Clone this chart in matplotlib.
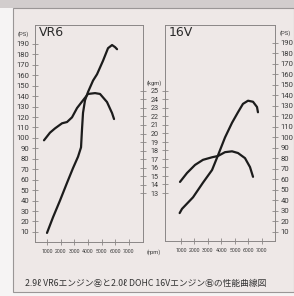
import matplotlib
matplotlib.use("Agg")
import matplotlib.pyplot as plt
from matplotlib.patches import Rectangle

# VR6 (left)
vr6_ps_rpm = [1000, 1440, 1950, 2465, 2900, 3270, 3490, 3560, 3635, 3780, 4000, 4370, 4660, 5100, 5465, 5760, 5980, 6125]
vr6_ps = [9, 24, 40, 57, 71, 82, 91, 108, 124, 136, 144, 155, 161, 174, 186, 189, 187, 185]
vr6_tq_rpm = [780, 1220, 1585, 2100, 2465, 2830, 3200, 3635, 4000, 4515, 4880, 5390, 5760, 5905]
vr6_tq = [19.2, 20.1, 20.6, 21.2, 21.35, 21.9, 23.0, 23.9, 24.65, 24.75, 24.65, 23.7, 22.4, 21.7]

# 16V (right)
v16_ps_rpm = [900, 1074, 1890, 2630, 3300, 3740, 4260, 4780, 5220, 5590, 5965, 6335, 6630, 6700]
v16_ps = [28, 32, 43, 57, 69, 83, 100, 114, 124, 132, 135, 134, 129, 124]
v16_tq_rpm = [926, 1445, 2040, 2630, 3300, 3740, 4260, 4780, 5220, 5740, 6110, 6335]
v16_tq = [14.3, 15.35, 16.3, 16.9, 17.2, 17.35, 17.8, 17.9, 17.7, 17.1, 16.05, 14.9]

ps_ticks = list(range(10, 200, 10))
kgm_ticks = list(range(13, 26))
rpm_ticks = [1000, 2000, 3000, 4000, 5000, 6000, 7000]
caption = "2.9ℓ VR6エンジン㊧と2.0ℓ DOHC 16Vエンジン㊨の性能曲線図"

W, H = 294, 296
narrow = ["Roboto", "DejaVu Sans"]
txt = "#3a3a3a"
spine_c = "#8a8686"
line_c = "#1c1c1c"

fig = plt.figure(figsize=(W / 100, H / 100), dpi=100)
fig.patch.set_facecolor("#f6f4f4")
# top strip and outer frame, kept behind the axes
fig.patches.append(Rectangle((0, 1 - 8 / H), 1, 8 / H, transform=fig.transFigure,
                             facecolor="#d2cdcd", edgecolor="none", zorder=-2))
fig.patches.append(Rectangle((13 / W, 1 - 292 / H), (W - 13) / W, (292 - 8) / H,
                             transform=fig.transFigure, facecolor="#eee8e7",
                             edgecolor="#9a9696", linewidth=0.8, zorder=-1))


def px(x, y):
    return x / W, 1 - y / H


axL = fig.add_axes([35 / W, 1 - 242 / H, 108 / W, 217 / H])
axR = fig.add_axes([165 / W, 1 - 241 / H, 110 / W, 216 / H])

# torque axes (twinx resets the host's tick side, so do it first)
tqL = axL.twinx()
tqR = axR.twinx()

for ax in (axL, axR):
    ax.set_facecolor("none")
    for s in ax.spines.values():
        s.set_color(spine_c)
        s.set_linewidth(0.7)
    ax.set_xticks(rpm_ticks)
    ax.set_xticklabels([str(v) for v in rpm_ticks], fontsize=3.7, family=narrow, color=txt)
    ax.tick_params(axis="x", direction="inout", length=4, width=0.6, color=spine_c, pad=3)
    ax.set_yticks(ps_ticks)
    ax.set_yticklabels([str(v) for v in ps_ticks], fontsize=5.6, family=narrow, color=txt)
    ax.tick_params(axis="y", direction="inout", length=5, width=0.6, color=spine_c, pad=1.5)

axL.set_xlim(122, 8024)
axL.set_ylim(0.3, 208.2)
axR.set_xlim(-185, 7963)
axR.set_ylim(1.4, 207.1)
axL.yaxis.tick_left()
axR.yaxis.tick_right()

tqL.set_ylim(7.24, 32.76)
tqL.set_yticks(kgm_ticks)
tqL.set_yticklabels([str(v) for v in kgm_ticks], fontsize=5.2, family=narrow, color=txt)
tqL.tick_params(axis="y", direction="inout", length=5, width=0.6, color=spine_c, pad=3)
for s in tqL.spines.values():
    s.set_visible(False)

tqR.set_ylim(7.35, 32.76)
tqR.yaxis.tick_left()
tqR.set_yticks(kgm_ticks)
tqR.tick_params(axis="y", direction="inout", length=5, width=0.6, color=spine_c, labelleft=False)
for s in tqR.spines.values():
    s.set_visible(False)

lw = 1.6
axL.plot(vr6_ps_rpm, vr6_ps, color=line_c, lw=lw, solid_capstyle="round", solid_joinstyle="round")
tqL.plot(vr6_tq_rpm, vr6_tq, color=line_c, lw=lw, solid_capstyle="round", solid_joinstyle="round")
axR.plot(v16_ps_rpm, v16_ps, color=line_c, lw=lw, solid_capstyle="round", solid_joinstyle="round")
tqR.plot(v16_tq_rpm, v16_tq, color=line_c, lw=lw, solid_capstyle="round", solid_joinstyle="round")

# labels
fig.text(*px(18, 34), "(PS)", fontsize=4.2, family=narrow, color=txt, va="center")
fig.text(*px(39, 33), "VR6", fontsize=9, color="#2a2a2a", va="center")
fig.text(*px(169, 33), "16V", fontsize=9, color="#2a2a2a", va="center")
fig.text(*px(280, 33), "(PS)", fontsize=4.2, family=narrow, color=txt, va="center")
fig.text(*px(154, 83), "(kgm)", fontsize=4.2, family=narrow, color=txt, va="center", ha="center")
fig.text(*px(154, 252), "(rpm)", fontsize=4.2, family=narrow, color=txt, va="center", ha="center")
fig.text(*px(25, 283), caption, fontsize=6.3, family=["Noto Sans CJK JP", "DejaVu Sans"],
         color="#333333", va="center")

fig.savefig("out.png", dpi=100, facecolor=fig.get_facecolor())
